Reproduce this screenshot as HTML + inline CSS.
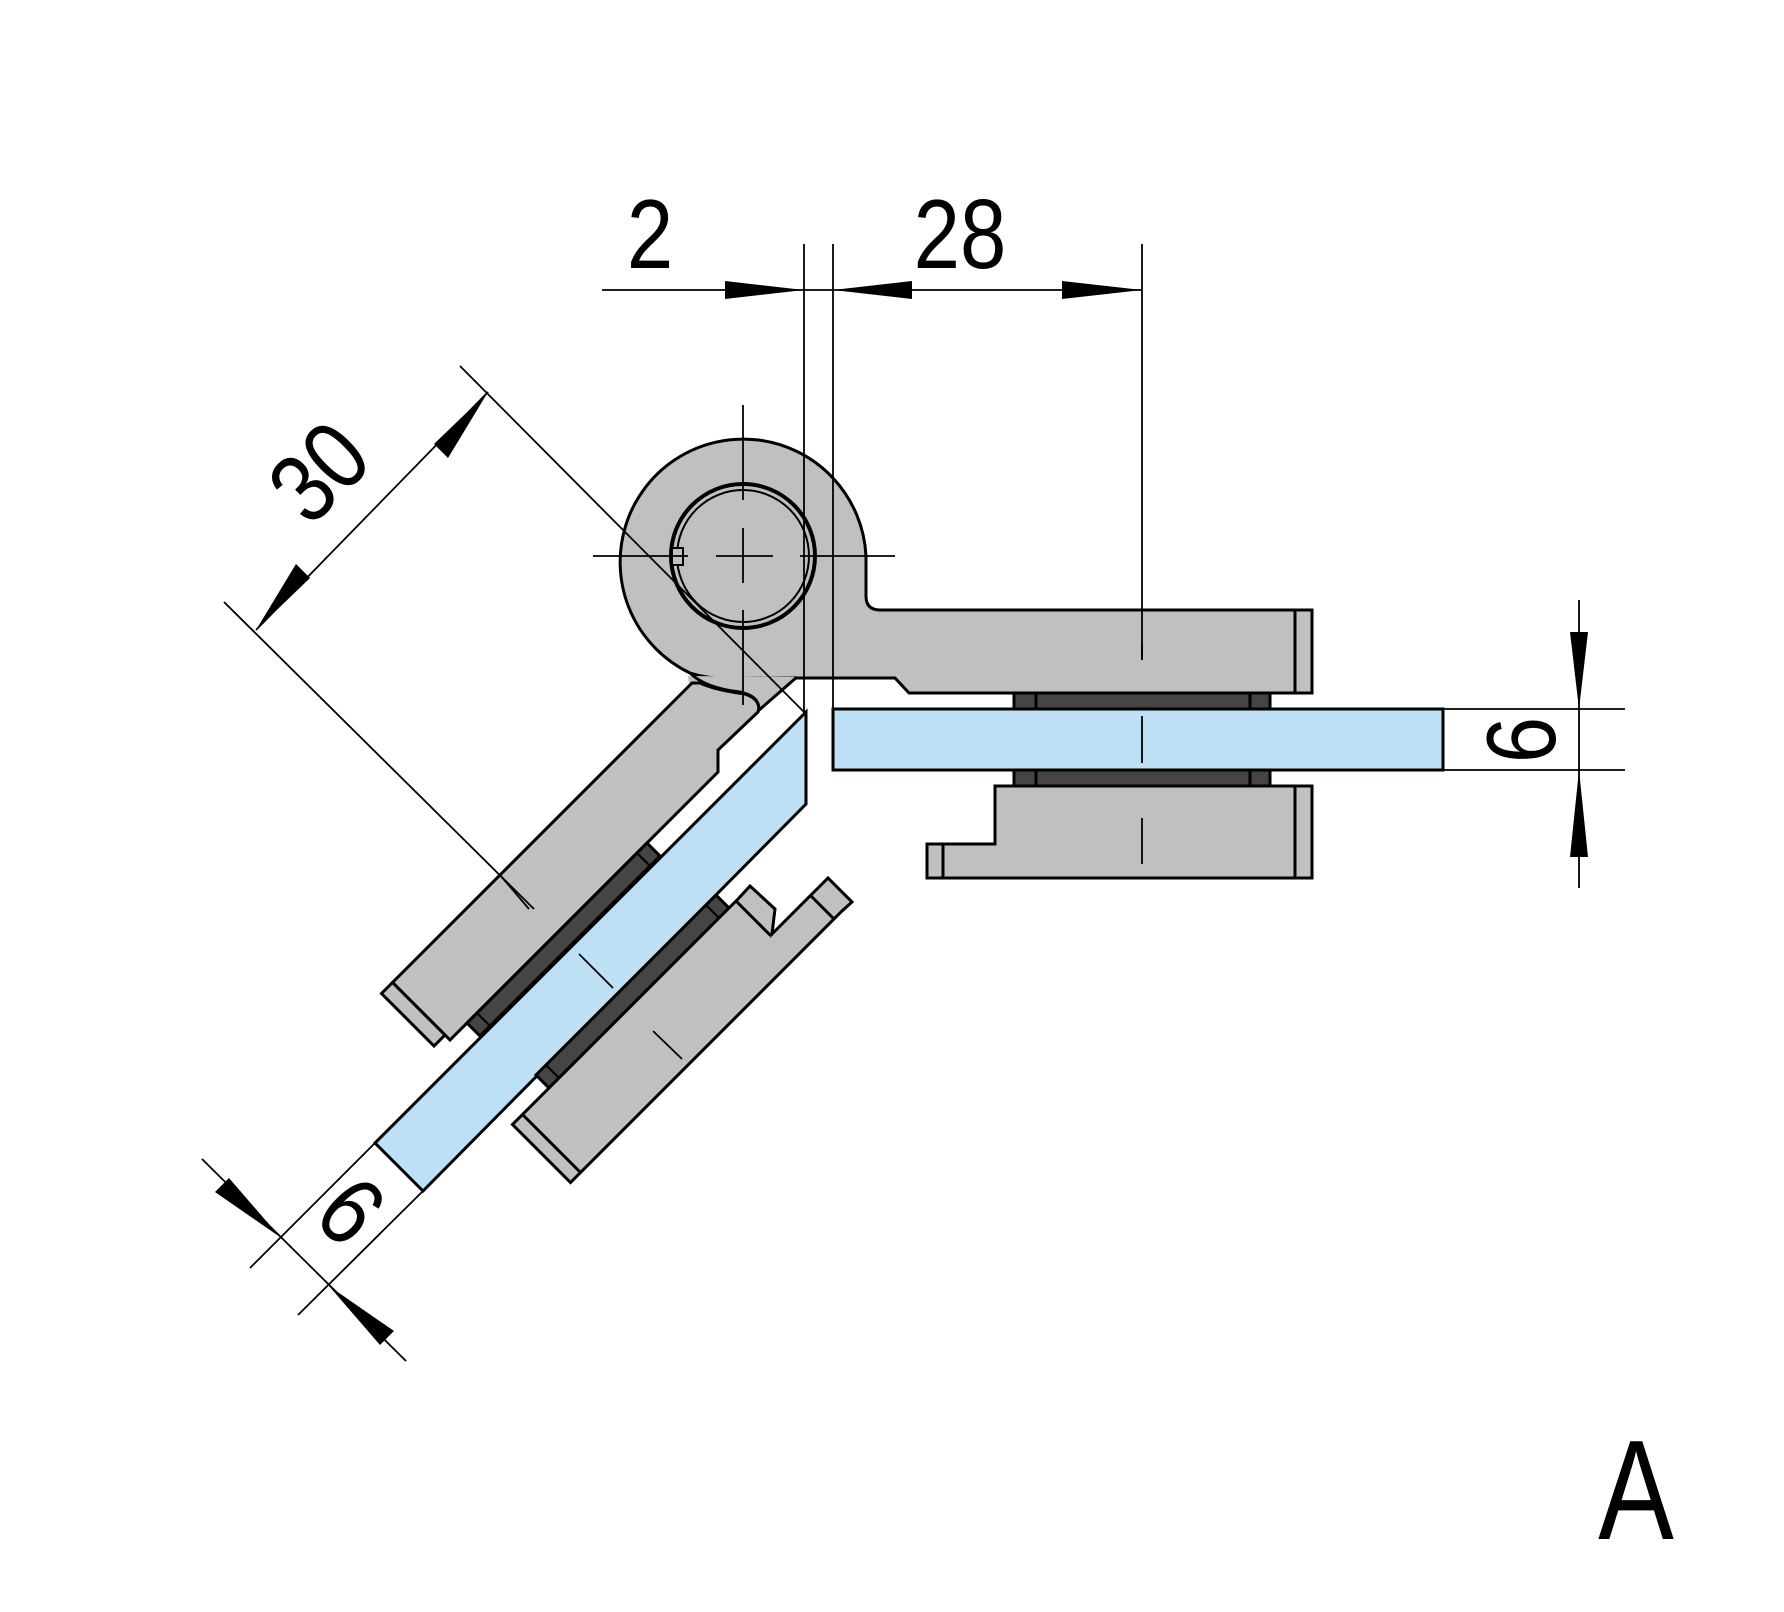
<!DOCTYPE html>
<html><head><meta charset="utf-8"><style>html,body{margin:0;padding:0;background:#fff}svg{display:block}</style></head>
<body>
<svg width="1784" height="1612" viewBox="0 0 1784 1612" xmlns="http://www.w3.org/2000/svg" font-family="Liberation Sans, sans-serif">
<g stroke="#000" stroke-width="3" stroke-linejoin="miter">
<polygon points="927,844 927,878 1312,878 1312,786 995,786 995,844" fill="#c0c0c0"/>
<line x1="943" y1="844" x2="943" y2="878"/>
<line x1="1295" y1="786" x2="1295" y2="878"/>
<rect x="1014" y="693" width="256" height="16" fill="#454545"/>
<rect x="1014" y="770" width="256" height="16" fill="#454545"/>
<line x1="1036" y1="693" x2="1036" y2="709"/><line x1="1250" y1="693" x2="1250" y2="709"/>
<line x1="1036" y1="770" x2="1036" y2="786"/><line x1="1250" y1="770" x2="1250" y2="786"/>
<rect x="833" y="709" width="610" height="61" fill="#bde0f5"/>
<path d="M866,556 A123,123 0 1 0 690,673 Q712,680 737,678 L895,678 L909,693 L1312,693 L1312,610 L880,610 Q866,610 866,596 Z" fill="#c0c0c0"/>
<line x1="1295" y1="610" x2="1295" y2="693"/>
<polygon points="688,676 797,677 758,711 690,690" fill="#c0c0c0" stroke="none"/>
<line x1="758" y1="711" x2="797" y2="677"/>
<path d="M692,683 L392.5,982.5 L450,1040 L718,772 L718,750 L758,712 Q762,700 745,694 Q715,690 700,683 Z" fill="#c0c0c0"/>
<path d="M690,673 Q705,688 740,692 Q757,696 758,705" fill="none"/>
<polygon points="392.5,982.5 381.5,993.5 434,1046 445,1035" fill="#c0c0c0"/>
<polygon points="660,856 480,1036 467,1023 647,843" fill="#454545"/>
<line x1="637" y1="853" x2="650" y2="866" stroke-width="2"/>
<line x1="477" y1="1013" x2="490" y2="1026" stroke-width="2"/>
<polygon points="806,712 806,804 423,1191 375,1143" fill="#bde0f5"/>
<polygon points="716,895 536,1075 549,1088 729,908" fill="#454545"/>
<line x1="706" y1="905" x2="719" y2="918" stroke-width="2"/>
<line x1="546" y1="1065" x2="559" y2="1078" stroke-width="2"/>
<polygon points="738.5,898.5 750,886 775,909 772,934 816.5,889.5 828,878 852,902 841.5,911.5 570.5,1182.5 512.5,1124.5" fill="#c0c0c0"/>
<line x1="736" y1="901" x2="770.5" y2="935.5"/>
<line x1="810.5" y1="895.5" x2="834" y2="919"/>
<line x1="522.5" y1="1114.5" x2="580.5" y2="1172.5"/>
<circle cx="743" cy="556" r="72" fill="#c0c0c0" stroke-width="4"/>
<circle cx="743" cy="556" r="66" fill="none" stroke-width="2"/>
<rect x="672" y="548" width="11" height="17" fill="#c0c0c0" stroke-width="2"/>
</g>
<g stroke="#000" stroke-width="1.8" fill="none">
<line x1="743" y1="405" x2="743" y2="500"/><line x1="743" y1="528" x2="743" y2="583"/><line x1="743" y1="610" x2="743" y2="705"/>
<line x1="593" y1="556" x2="688" y2="556"/><line x1="716" y1="556" x2="773" y2="556"/><line x1="800" y1="556" x2="895" y2="556"/>
<line x1="500" y1="875" x2="529" y2="909"/><line x1="579" y1="954" x2="613" y2="988"/><line x1="653" y1="1031" x2="682" y2="1059"/>
<line x1="1142" y1="642" x2="1142" y2="659"/><line x1="1142" y1="716" x2="1142" y2="763"/><line x1="1142" y1="818" x2="1142" y2="864"/>
<line x1="602" y1="290" x2="1142" y2="290"/>
<line x1="804" y1="244" x2="804" y2="713"/>
<line x1="833" y1="244" x2="833" y2="710"/>
<line x1="1142" y1="244" x2="1142" y2="660"/>
<line x1="1443" y1="709" x2="1625" y2="709"/>
<line x1="1443" y1="770" x2="1625" y2="770"/>
<line x1="1579" y1="600" x2="1579" y2="888"/>
<line x1="460" y1="366" x2="804" y2="712"/>
<line x1="224" y1="602" x2="534" y2="909"/>
<line x1="488" y1="392" x2="256" y2="630"/>
<line x1="375" y1="1143" x2="250" y2="1268"/>
<line x1="423" y1="1191" x2="298" y2="1315"/>
<line x1="202" y1="1159" x2="406" y2="1361"/>
</g>
<g fill="#000">
<polygon points="725,281 804,290 725,299"/>
<polygon points="912,281 833,290 912,299"/>
<polygon points="1062,281 1142,290 1062,299"/>
<polygon points="1570,632 1579,709 1588,632"/>
<polygon points="1570,857 1579,770 1588,857"/>
<polygon points="488,392 448,458 434,444"/>
<polygon points="256,630 296,564 310,578"/>
<polygon points="280,1237 215,1192 229,1178"/>
<polygon points="329,1286 394,1331 380,1345"/>
</g>
<g font-size="98" fill="#000" text-anchor="middle">
<text transform="translate(650,268) scale(0.85,1)">2</text>
<text transform="translate(960,268) scale(0.85,1)">28</text>
<text transform="translate(318,471) rotate(-45) scale(0.85,1)" y="35">30</text>
<text transform="translate(1520,740) rotate(-90) scale(0.85,1)" y="35">6</text>
<text transform="translate(352,1210) rotate(45) scale(0.85,1)" y="35">6</text>
<text transform="translate(1636,1539) scale(0.8,1)" font-size="142">A</text>
</g>
</svg>
</body></html>
